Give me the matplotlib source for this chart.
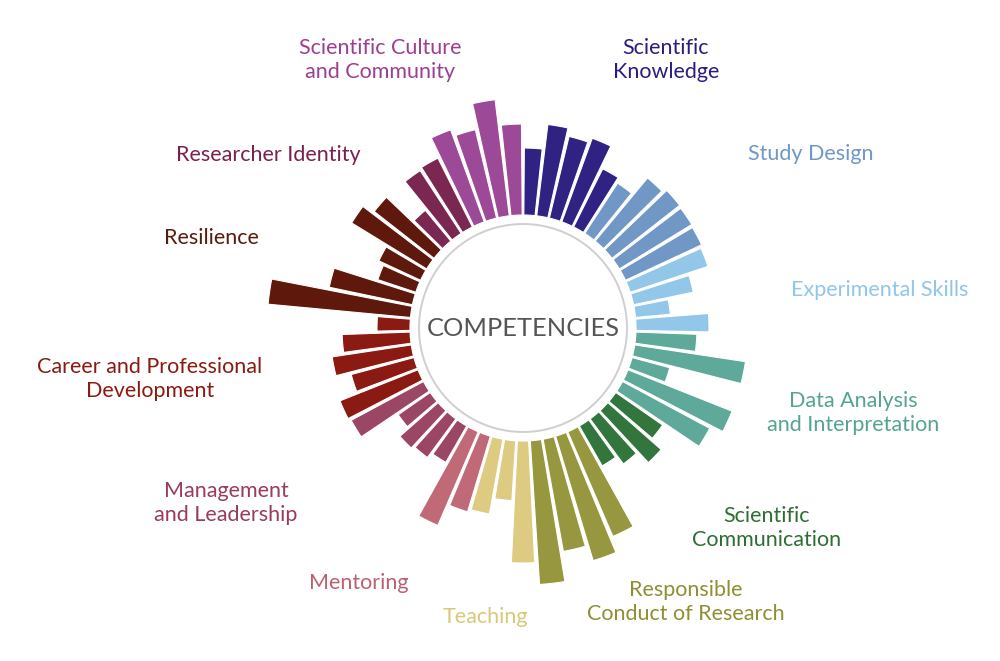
import numpy as np
import matplotlib
matplotlib.use("Agg")
import matplotlib.pyplot as plt

# ---- data (bar lengths, clockwise from 12 o'clock) ----
categories = [
    "Scientific\nKnowledge", "Study Design", "Experimental Skills",
    "Data Analysis\nand Interpretation", "Scientific\nCommunication",
    "Responsible\nConduct of Research", "Teaching", "Mentoring",
    "Management\nand Leadership", "Career and Professional\nDevelopment",
    "Resilience", "Researcher Identity", "Scientific Culture\nand Community",
]
sci_knowledge = [67, 92, 84, 89, 65]
study_design = [60, 82, 86, 85, 84]
experimental_skills = [82, 61, 35, 73]
data_analysis = [61, 112, 39, 112, 99]
sci_communication = [57, 71, 56, 46]
responsible_conduct = [114, 130, 114, 144]
teaching = [122, 60, 76]
mentoring = [79, 102]
management = [42, 48, 51, 39, 82]
career = [84, 65, 80, 68, 33]
resilience = [143, 85, 40, 46, 88, 76]
researcher_identity = [40, 75, 77]
sci_culture = [98, 91, 117, 91]

series = [sci_knowledge, study_design, experimental_skills, data_analysis,
          sci_communication, responsible_conduct, teaching, mentoring,
          management, career, resilience, researcher_identity, sci_culture]

bar_colors = ["#2f2283", "#7097c6", "#93c7e9", "#5ea99a", "#33763d",
              "#979740", "#dccb80", "#c06a77", "#9c4665", "#8b1a12",
              "#5e180c", "#7a2752", "#9c4a98"]
label_colors = ["#2b1d80", "#6f97c8", "#8fc6ea", "#53a493", "#2e6e33",
                "#8f8f34", "#d8c878", "#bb6070", "#9a3a5e", "#8b1a10",
                "#5a1a0c", "#7a2050", "#9b3f95"]
# label anchor positions (pixel centres in a 1000x661 canvas)
label_pos = [(666, 60), (811, 154), (880, 290), (853, 413), (767, 528),
             (686, 602), (485, 617), (359, 583), (226, 503), (150, 379),
             (211, 238), (268, 155), (380, 60)]

values = [v for s in series for v in s]
colors = [bar_colors[i] for i, s in enumerate(series) for _ in s]
n = len(values)
step = 2 * np.pi / n
theta = (np.arange(n) + 0.5) * step

W, H = 1000, 661
fig = plt.figure(figsize=(W / 100, H / 100), dpi=100)
fig.patch.set_facecolor("white")

cx, cy, R = 523, 333, 270
ax = fig.add_axes([(cx - R) / W, (cy - R) / H, 2 * R / W, 2 * R / H],
                  projection="polar")
ax.set_theta_zero_location("N")
ax.set_theta_direction(-1)
ax.set_ylim(0, R)
ax.set_axis_off()

base = 113
ax.bar(theta, values, width=step * 0.87, bottom=base, color=colors,
       edgecolor="white", linewidth=0.8, align="center")

circ = np.linspace(0, 2 * np.pi, 400)
ax.plot(circ, np.full_like(circ, 104), color="#cfcfcf", linewidth=1.4)

ax.text(0, 0, "COMPETENCIES", ha="center", va="center", fontsize=18.3,
        color="#555555", family="Lato")

for name, col, (px, py) in zip(categories, label_colors, label_pos):
    fig.text(px / W, 1 - py / H, name, ha="center", va="center",
             multialignment="center", fontsize=15.5, color=col,
             family="Lato", linespacing=1.3)

fig.savefig("out.png", dpi=100, facecolor="white")
